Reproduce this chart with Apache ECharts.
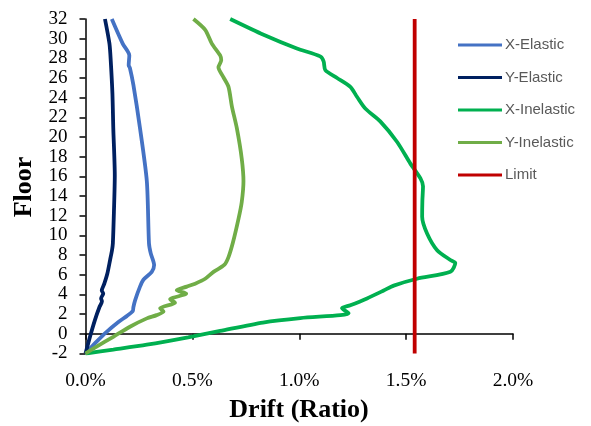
<!DOCTYPE html>
<html>
<head>
<meta charset="utf-8">
<script src="https://cdn.jsdelivr.net/npm/echarts@6/dist/echarts.min.js"></script>
<style>
html,body{margin:0;padding:0;background:#fff;}
#chart{width:591px;height:426px;}
</style>
</head>
<body>
<div id="chart"></div>
<script>
// Drift in percent, floors
var xElasticFloor = [32, 29.5, 28.3, 27.3, 27.0, 25.3, 20.9, 15.5, 9.2, 8.2, 7.0, 6.3, 5.5, 4.8, 3.4, 2.7, 2.3, 1.8, 1.2, 0.2, -0.8, -2];
var xElasticDrift = [0.123, 0.174, 0.205, 0.202, 0.208, 0.224, 0.255, 0.287, 0.297, 0.305, 0.321, 0.31, 0.271, 0.255, 0.232, 0.224, 0.221, 0.193, 0.154, 0.099, 0.052, 0];

var yElasticFloor = [32, 29.5, 27.8, 24.4, 20.9, 16.1, 12.4, 9.2, 8.5, 7.5, 6.1, 5.1, 4.4, 4.1, 3.6, 3.3, 2.7, 1.4, -0.3, -2];
var yElasticDrift = [0.091, 0.112, 0.118, 0.126, 0.130, 0.137, 0.133, 0.128, 0.124, 0.115, 0.102, 0.088, 0.076, 0.083, 0.073, 0.077, 0.065, 0.044, 0.021, 0];

var xInelasticFloor = [32, 30.4, 29.0, 28.2, 27.7, 26.8, 26.0, 25.1, 24.1, 22.9, 21.6, 19.5, 17.3, 15.8, 15.0, 13.5, 11.9, 10.2, 8.5, 7.5, 7.2, 6.3, 5.6, 4.9, 4.4, 3.6, 2.9, 2.6, 2.1, 1.9, 1.6, 1.15, 0.3, -0.35, -1.1, -1.6, -2];
var xInelasticDrift = [0.677, 0.833, 0.989, 1.098, 1.114, 1.122, 1.177, 1.239, 1.270, 1.309, 1.379, 1.458, 1.520, 1.567, 1.579, 1.576, 1.575, 1.598, 1.645, 1.707, 1.73, 1.707, 1.551, 1.442, 1.395, 1.317, 1.239, 1.200, 1.231, 1.192, 1.005, 0.83, 0.63, 0.48, 0.287, 0.13, 0];

var yInelasticFloor = [32, 30.9, 29.5, 28.3, 27.8, 27.1, 26.1, 25.1, 23.1, 20.9, 17.8, 15.5, 13.4, 11.7, 9.3, 7.8, 7.0, 6.3, 5.6, 5.1, 4.8, 4.44, 4.1, 3.5, 3.17, 2.6, 2.26, 1.9, 1.57, 0.72, -0.3, -1.3, -2];
var yInelasticDrift = [0.505, 0.560, 0.591, 0.630, 0.635, 0.622, 0.645, 0.669, 0.685, 0.708, 0.731, 0.739, 0.731, 0.716, 0.69, 0.669, 0.649, 0.599, 0.560, 0.513, 0.474, 0.427, 0.471, 0.396, 0.419, 0.349, 0.365, 0.333, 0.287, 0.208, 0.130, 0.052, 0];

var limitFloor = [-2, 32];
var limitDrift = [1.54, 1.54];

var seriesNames = ['X-Elastic', 'Y-Elastic', 'X-Inelastic', 'Y-Inelastic', 'Limit'];
var seriesColors = ['#4472C4', '#002060', '#00B050', '#70AD47', '#C00000'];

var xTicks = [0, 0.5, 1.0, 1.5, 2.0];

function zip(d, f) { return d.map(function (v, i) { return [v, f[i]]; }); }

var allData = [
  zip(xElasticDrift, xElasticFloor),
  zip(yElasticDrift, yElasticFloor),
  zip(xInelasticDrift, xInelasticFloor),
  zip(yInelasticDrift, yInelasticFloor),
  zip(limitDrift, limitFloor)
];

var chart = echarts.init(document.getElementById('chart'), null, {renderer: 'canvas'});
var serif = 'Liberation Serif';
chart.setOption({
  animation: false,
  backgroundColor: '#ffffff',
  grid: {left: 85.5, top: 19, width: 427.5, height: 334.5, containLabel: false},
  legend: {
    orient: 'vertical',
    left: 458, top: 37,
    padding: 0,
    icon: 'rect',
    itemWidth: 44, itemHeight: 3,
    itemGap: 16.5,
    data: seriesNames,
    textStyle: {fontFamily: 'Liberation Sans', fontSize: 15, color: '#595959', lineHeight: 16, padding: [0, 0, 0, -2]}
  },
  xAxis: {
    type: 'value', min: xTicks[0], max: xTicks[xTicks.length - 1], interval: 0.5,
    axisLine: {lineStyle: {color: '#000', width: 1.5}},
    axisTick: {show: true, length: 6, lineStyle: {color: '#000', width: 1.5}},
    splitLine: {show: false},
    axisLabel: {fontFamily: serif, fontSize: 19.5, color: '#000', margin: 17,
      formatter: function (v) { return v.toFixed(1) + '%'; }}
  },
  yAxis: {
    type: 'value', min: -2, max: 32, interval: 2,
    axisLine: {show: true, lineStyle: {color: '#000', width: 1.5}},
    axisTick: {show: true, length: 6, lineStyle: {color: '#000', width: 1.5}},
    splitLine: {show: false},
    axisLabel: {fontFamily: serif, fontSize: 19, color: '#000', margin: 18}
  },
  graphic: [
    {type: 'text', x: 24, y: 187, rotation: Math.PI / 2,
      style: {text: 'Floor', font: 'bold 26px "Liberation Serif"', fill: '#000', textAlign: 'center', textVerticalAlign: 'middle'}},
    {type: 'text', x: 299, y: 410,
      style: {text: 'Drift (Ratio)', font: 'bold 26px "Liberation Serif"', fill: '#000', textAlign: 'center', textVerticalAlign: 'middle'}}
  ],
  series: allData.map(function (d, i) {
    return {
      name: seriesNames[i], type: 'line', data: d,
      showSymbol: false, smooth: i === 4 ? false : 0.25,
      lineStyle: {color: seriesColors[i], width: 3.8},
      itemStyle: {color: seriesColors[i]},
      z: i === 4 ? 5 : 2
    };
  })
});
</script>
</body>
</html>
